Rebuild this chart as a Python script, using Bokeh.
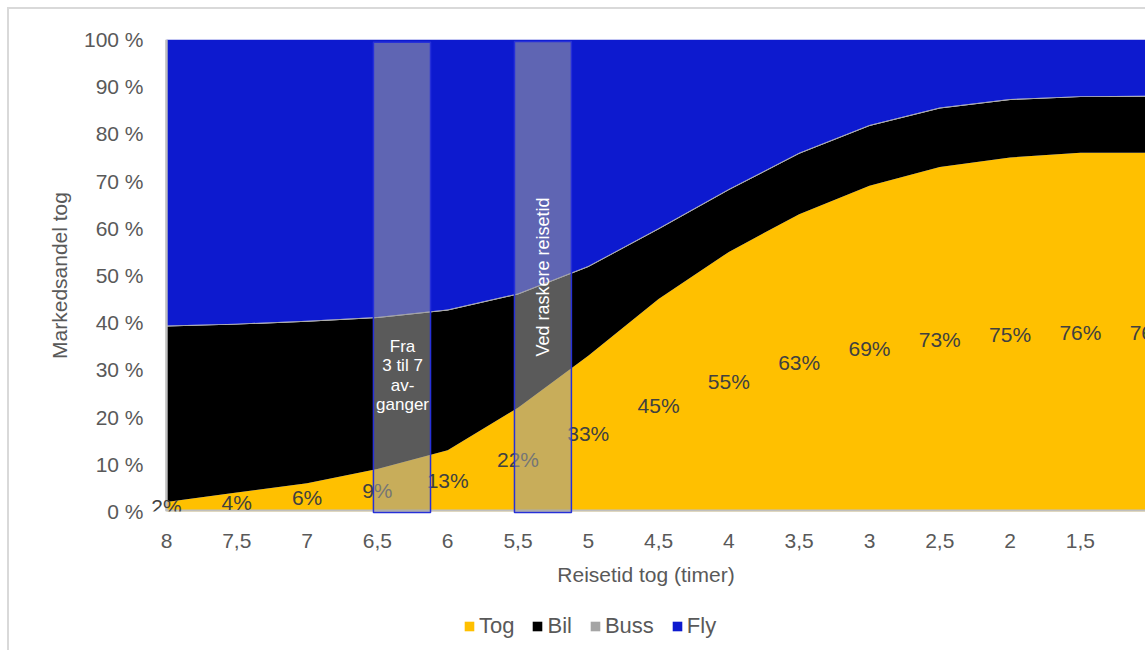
import math
from bokeh.plotting import figure
from bokeh.layouts import column
from bokeh.models import (ColumnDataSource, Range1d, FixedTicker, Legend, LegendItem,
                          LabelSet, Span)
from bokeh.core.properties import value
from bokeh.embed import file_html
from bokeh.resources import INLINE

# ---------------- data ----------------
reisetid = [8, 7.5, 7, 6.5, 6, 5.5, 5, 4.5, 4, 3.5, 3, 2.5, 2, 1.5, 1]
tog = [2, 4, 6, 9, 13, 22, 33, 45, 55, 63, 69, 73, 75, 76, 76]
bil = [37.2, 35.6, 34.2, 32.0, 29.6, 24.0, 18.8, 14.8, 13.1, 12.8, 12.7, 12.4, 12.2, 11.8, 11.9]
buss = [0.2, 0.2, 0.2, 0.2, 0.2, 0.2, 0.2, 0.2, 0.2, 0.2, 0.2, 0.2, 0.2, 0.2, 0.2]
fly = [60.6, 60.2, 59.6, 58.8, 57.2, 53.8, 48.0, 40.0, 31.7, 24.0, 18.1, 14.4, 12.6, 12.0, 11.9]
x_tick_labels = ["8", "7,5", "7", "6,5", "6", "5,5", "5", "4,5", "4", "3,5", "3", "2,5", "2", "1,5", "1"]
y_ticks = [0, 10, 20, 30, 40, 50, 60, 70, 80, 90, 100]
y_tick_labels = ["0 %", "10 %", "20 %", "30 %", "40 %", "50 %", "60 %", "70 %", "80 %", "90 %", "100 %"]
series_names = ["Tog", "Bil", "Buss", "Fly"]
series_colors = ["#FFC000", "#000000", "#A5A5A5", "#0D1ACF"]
note_1 = "Fra\n3 til 7\nav-\nganger"
note_2 = "Ved raskere reisetid"

FONT = "Liberation Sans"
AXIS_COL = "#595959"
LINE_COL = "#bfbfbf"

src = ColumnDataSource(dict(
    x=reisetid, Tog=tog, Bil=bil, Buss=buss, Fly=fly,
    label_y=[v / 2 for v in tog],
    label=[f"{v}%" for v in tog],
))

p = figure(width=1136, height=591, output_backend="svg", toolbar_location=None,
           x_range=Range1d(8.142, 1.037), y_range=Range1d(0, 100),
           min_border_left=137, min_border_top=30, min_border_bottom=89, min_border_right=0)
p.background_fill_color = "white"
p.border_fill_color = "white"
p.outline_line_color = None
p.xgrid.visible = False
p.ygrid.visible = False

rends = p.varea_stack(stackers=series_names, x="x", color=series_colors, source=src)

# axis lines of the plot area (value axis sits at the first category)
p.add_layout(Span(location=reisetid[0], dimension="height", line_color=LINE_COL, line_width=2.5))
p.segment(x0=[reisetid[0]], x1=[reisetid[-1]], y0=[0], y1=[0], line_color=LINE_COL, line_width=4)

# data labels (Tog)
labels = LabelSet(x="x", y="label_y", text="label", source=src, text_align="center",
                  text_baseline="middle", text_font=value(FONT), text_font_size=value("21px"),
                  text_color=value("#404040"))
p.add_layout(labels)

# annotation boxes
p.quad(left=[6.528, 5.525], right=[6.122, 5.120], bottom=[-0.2, -0.2], top=[99.4, 99.6],
       fill_color="#9e9e9e", fill_alpha=0.57, line_color="#2630d8", line_width=1.5,
       level="overlay")
p.text(x=[6.321], y=[28.8], text=[note_1], text_align="center", text_baseline="middle",
       text_font=value(FONT), text_font_size="17px", text_color="white", text_line_height=1.02,
       level="overlay")
p.text(x=[5.319], y=[49.7], text=[note_2], angle=math.pi / 2, text_align="center",
       text_baseline="middle", text_font=value(FONT), text_font_size="18px", text_color="white",
       level="overlay")

# axes
xa = p.xaxis[0]
xa.ticker = FixedTicker(ticks=reisetid)
xa.major_label_overrides = {t: l for t, l in zip(reisetid, x_tick_labels)}
xa.axis_line_color = None
xa.major_tick_line_color = None
xa.minor_tick_line_color = None
xa.major_label_standoff = 16
xa.major_label_text_font = FONT
xa.major_label_text_font_size = "21px"
xa.major_label_text_color = AXIS_COL
xa.axis_label = "Reisetid tog (timer)"
xa.axis_label_text_font = FONT
xa.axis_label_text_font_size = "21px"
xa.axis_label_text_font_style = "normal"
xa.axis_label_text_color = AXIS_COL
xa.axis_label_standoff = 12

ya = p.yaxis[0]
ya.ticker = FixedTicker(ticks=y_ticks)
ya.major_label_overrides = {t: l for t, l in zip(y_ticks, y_tick_labels)}
ya.axis_line_color = None
ya.major_tick_line_color = None
ya.minor_tick_line_color = None
ya.major_label_standoff = -3
ya.major_label_text_font = FONT
ya.major_label_text_font_size = "21px"
ya.major_label_text_color = AXIS_COL
ya.axis_label = "Markedsandel tog"
ya.axis_label_text_font = FONT
ya.axis_label_text_font_size = "21px"
ya.axis_label_text_font_style = "normal"
ya.axis_label_text_color = AXIS_COL
ya.axis_label_standoff = 10

# ---------------- legend strip ----------------
# same stacked series, drawn outside this strip's visible range; only the legend shows
leg_fig = figure(width=1136, height=50, output_backend="svg", toolbar_location=None,
                 x_range=Range1d(1000, 2145), y_range=Range1d(1000, 1050),
                 min_border=0, x_axis_type=None, y_axis_type=None)
leg_fig.outline_line_color = None
leg_fig.background_fill_color = "white"
leg_fig.xgrid.visible = False
leg_fig.ygrid.visible = False
leg_rends = leg_fig.varea_stack(stackers=series_names, x="x", color=series_colors, source=src)
legend = Legend(items=[LegendItem(label=n, renderers=[r]) for n, r in zip(series_names, leg_rends)],
                orientation="horizontal", location=(317, 11), padding=0, margin=0,
                spacing=17, label_standoff=4, glyph_width=12, glyph_height=12,
                label_text_font=FONT, label_text_font_size="22px", label_text_color=AXIS_COL,
                border_line_color=None, background_fill_alpha=0)
leg_fig.add_layout(legend)

layout = column(p, leg_fig, spacing=0, margin=(7, 0, 0, 7),
                styles={"border-top": "2px solid #d9d9d9", "border-left": "2px solid #d9d9d9"})
open("out.html", "w").write(file_html(layout, INLINE))
